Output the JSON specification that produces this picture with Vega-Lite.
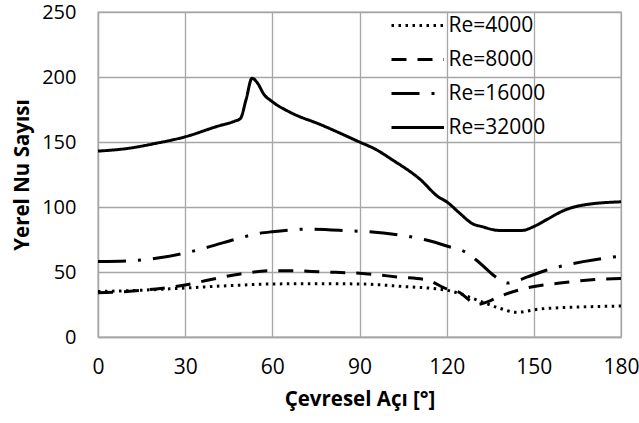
{
  "$schema": "https://vega.github.io/schema/vega-lite/v6.json",
  "width": 523,
  "height": 325,
  "autosize": "none",
  "padding": {"left": 98, "top": 12, "right": 18, "bottom": 86},
  "background": "white",
  "config": {
    "font": "Open Sans",
    "view": {"stroke": "#a6a6a6", "strokeWidth": 1.3},
    "axis": {"gridColor": "#a6a6a6", "gridWidth": 1.3, "domainColor": "#a6a6a6", "domainWidth": 1.3, "ticks": false, "labelFontSize": 21, "labelColor": "#000", "titleColor": "#000", "titleFontSize": 20.5, "titleFontWeight": "bold", "labelFont": "Open Sans", "titleFont": "Open Sans", "labelFlush": false, "labelOverlap": false}
  },
  "data": {"values": [
    {"a":0,"nu":143,"s":"Re=32000"},{"a":10,"nu":145,"s":"Re=32000"},{"a":20,"nu":149,"s":"Re=32000"},{"a":30,"nu":154,"s":"Re=32000"},{"a":41,"nu":162,"s":"Re=32000"},{"a":47,"nu":166,"s":"Re=32000"},{"a":49,"nu":168,"s":"Re=32000"},{"a":51,"nu":183,"s":"Re=32000"},{"a":53,"nu":199,"s":"Re=32000"},{"a":55,"nu":195,"s":"Re=32000"},{"a":57,"nu":187,"s":"Re=32000"},{"a":60,"nu":181,"s":"Re=32000"},{"a":66,"nu":173,"s":"Re=32000"},{"a":77,"nu":163,"s":"Re=32000"},{"a":90,"nu":150,"s":"Re=32000"},{"a":95,"nu":145,"s":"Re=32000"},{"a":101.5,"nu":136,"s":"Re=32000"},{"a":111,"nu":121,"s":"Re=32000"},{"a":117,"nu":108,"s":"Re=32000"},{"a":120,"nu":104,"s":"Re=32000"},{"a":124.6,"nu":95,"s":"Re=32000"},{"a":129,"nu":87,"s":"Re=32000"},{"a":132,"nu":85,"s":"Re=32000"},{"a":138,"nu":82,"s":"Re=32000"},{"a":146,"nu":82,"s":"Re=32000"},{"a":150,"nu":85,"s":"Re=32000"},{"a":155,"nu":91,"s":"Re=32000"},{"a":160,"nu":97,"s":"Re=32000"},{"a":167,"nu":101.5,"s":"Re=32000"},{"a":180,"nu":104,"s":"Re=32000"},
    {"a":0,"nu":58,"s":"Re=16000"},{"a":10,"nu":58.5,"s":"Re=16000"},{"a":20,"nu":60.5,"s":"Re=16000"},{"a":30,"nu":64.6,"s":"Re=16000"},{"a":40,"nu":70.5,"s":"Re=16000"},{"a":47,"nu":75,"s":"Re=16000"},{"a":55,"nu":79.5,"s":"Re=16000"},{"a":60,"nu":81,"s":"Re=16000"},{"a":73,"nu":83,"s":"Re=16000"},{"a":88,"nu":81.5,"s":"Re=16000"},{"a":93,"nu":81,"s":"Re=16000"},{"a":105,"nu":78,"s":"Re=16000"},{"a":113,"nu":74.6,"s":"Re=16000"},{"a":120,"nu":70,"s":"Re=16000"},{"a":127,"nu":64.6,"s":"Re=16000"},{"a":131,"nu":57.7,"s":"Re=16000"},{"a":136,"nu":47.7,"s":"Re=16000"},{"a":139,"nu":43,"s":"Re=16000"},{"a":141,"nu":41.5,"s":"Re=16000"},{"a":144,"nu":43,"s":"Re=16000"},{"a":147.6,"nu":46,"s":"Re=16000"},{"a":154.5,"nu":51.5,"s":"Re=16000"},{"a":167,"nu":58,"s":"Re=16000"},{"a":180,"nu":62.3,"s":"Re=16000"},
    {"a":0,"nu":34,"s":"Re=8000"},{"a":10,"nu":35,"s":"Re=8000"},{"a":20,"nu":37,"s":"Re=8000"},{"a":30,"nu":40,"s":"Re=8000"},{"a":38.5,"nu":44,"s":"Re=8000"},{"a":49,"nu":48.5,"s":"Re=8000"},{"a":60,"nu":51,"s":"Re=8000"},{"a":66,"nu":51,"s":"Re=8000"},{"a":77.5,"nu":50,"s":"Re=8000"},{"a":90,"nu":49,"s":"Re=8000"},{"a":104,"nu":46,"s":"Re=8000"},{"a":113,"nu":44,"s":"Re=8000"},{"a":120,"nu":37,"s":"Re=8000"},{"a":124.6,"nu":34,"s":"Re=8000"},{"a":128,"nu":28,"s":"Re=8000"},{"a":130.4,"nu":25,"s":"Re=8000"},{"a":134,"nu":27,"s":"Re=8000"},{"a":138,"nu":31,"s":"Re=8000"},{"a":147.6,"nu":37.7,"s":"Re=8000"},{"a":159,"nu":41.5,"s":"Re=8000"},{"a":170,"nu":44,"s":"Re=8000"},{"a":180,"nu":45,"s":"Re=8000"},
    {"a":0,"nu":35,"s":"Re=4000"},{"a":15,"nu":36,"s":"Re=4000"},{"a":30,"nu":37.7,"s":"Re=4000"},{"a":45,"nu":39.5,"s":"Re=4000"},{"a":60,"nu":40.8,"s":"Re=4000"},{"a":75,"nu":41,"s":"Re=4000"},{"a":90,"nu":40.8,"s":"Re=4000"},{"a":104,"nu":39,"s":"Re=4000"},{"a":120,"nu":36,"s":"Re=4000"},{"a":125,"nu":33,"s":"Re=4000"},{"a":130.4,"nu":28.5,"s":"Re=4000"},{"a":138,"nu":22.3,"s":"Re=4000"},{"a":144,"nu":19,"s":"Re=4000"},{"a":152,"nu":21.5,"s":"Re=4000"},{"a":165,"nu":23,"s":"Re=4000"},{"a":180,"nu":23.8,"s":"Re=4000"}
  ]},
  "mark": {"type": "line", "color": "#000", "strokeWidth": 3, "interpolate": "monotone"},
  "encoding": {
    "x": {"field": "a", "type": "quantitative", "title": "Çevresel Açı [°]", "scale": {"domain": [0, 180], "nice": false}, "axis": {"values": [0,30,60,90,120,150,180], "labelPadding": 19, "titlePadding": 12}},
    "y": {"field": "nu", "type": "quantitative", "title": "Yerel Nu Sayısı", "scale": {"domain": [0, 250], "nice": false}, "axis": {"values": [0,50,100,150,200,250], "labelPadding": 22, "titlePadding": 9, "labelFontSize": 20}},
    "strokeDash": {"field": "s", "type": "nominal", "scale": {"domain": ["Re=4000","Re=8000","Re=16000","Re=32000"], "range": [[2.5,4.5],[15,11],[28,12,3,12],[1,0]]},
      "legend": {"title": null, "orient": "none", "legendX": 309.5, "legendY": -5.5, "padding": 0, "symbolType": "M-2,0H1", "symbolSize": 1225, "symbolStrokeWidth": 3, "symbolStrokeColor": "#000", "symbolFillColor": "transparent", "labelFontSize": 21, "labelColor": "#000", "labelOffset": 3, "rowPadding": 5, "labelFont": "Open Sans"}}
  }
}
